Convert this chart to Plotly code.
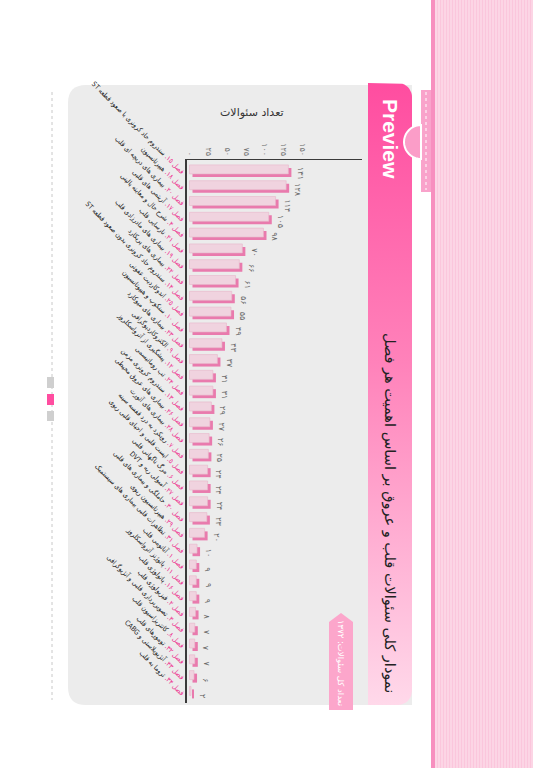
import plotly.graph_objects as go
import math

W, H = 533, 768

# ---------------- data ----------------
chapters = [15, 18, 20, 17, 4, 21, 19, 22, 14, 25, 10, 23, 9, 12, 24, 13, 26, 28,
            7, 5, 6, 27, 30, 29, 31, 1, 11, 16, 2, 3, 8, 32, 33, 34]
titles = [
    "سندروم حاد کرونری با صعود قطعه ST",
    "هیپرتانسیون",
    "بیماری های دریچه ای قلب",
    "آریتمی های قلبی",
    "شرح حال و معاینه بالینی",
    "نارسایی قلب",
    "بیماری های مادرزادی قلب",
    "بیماری های پریکارد",
    "سندروم حاد کرونری بدون صعود قطعه ST",
    "اندوکاردیت عفونی",
    "سنکوپ و هیپوتانسیون",
    "بیماری های میوکارد",
    "الکتروکاردیوگرافی",
    "پیشگیری از آترواسکلروز",
    "تب روماتیسمی",
    "سندروم کرونری مزمن",
    "بیماری های عروق محیطی",
    "بیماری های آئورت",
    "رویکرد به درد قفسه سینه",
    "ایست قلبی و احیای قلبی ریوی",
    "مرگ ناگهانی قلبی",
    "آمبولی ریه و DVT",
    "حاملگی و بیماری های قلبی",
    "هیپرتانسیون ریوی",
    "تظاهرات قلبی بیماری های سیستمیک",
    "آناتومی قلب",
    "پاتوژنز آترواسکلروز",
    "پاتولوژی قلب",
    "فیزیولوژی قلب",
    "تصویربرداری قلبی و آنژیوگرافی",
    "کاتتریزاسیون قلب",
    "تومورهای قلب",
    "آنژیوپلاستی و CABG",
    "تروما به قلب",
]
values = [131, 128, 114, 105, 98, 70, 66, 61, 56, 55, 49, 43, 37, 31, 31, 29, 27, 26,
          25, 24, 24, 24, 23, 20, 10, 9, 9, 9, 8, 7, 7, 7, 6, 2]
tick_values = [0, 25, 50, 75, 100, 125, 150]
total_text = "تعداد کل سئوالات: ۱۳۷۲"
chart_title = "نمودار کلی سئوالات قلب و عروق بر اساس اهمیت هر فصل"
axis_title = "تعداد سئوالات"

FA = str.maketrans("0123456789", "۰۱۲۳۴۵۶۷۸۹")
def fa(v):
    return str(v).translate(FA)

def px(x):
    return x / W
def py(y):
    return 1 - y / H

idx = list(range(len(values)))
ticktext_y = ["\u202b<span style='color:#ee2f8c'>فصل " + fa(c) + ".</span> " + t + "\u202c"
              for c, t in zip(chapters, titles)]

fig = go.Figure()

# 3D-looking bars: dark pink shadow behind light face
fig.add_trace(go.Bar(y=idx, x=values, base=4, orientation="h", width=0.57, offset=-0.32,
                     marker=dict(color="#e97aad", line=dict(width=0)), hoverinfo="skip",
                     xaxis="x", yaxis="y"))
fig.add_trace(go.Bar(y=idx, x=values, base=0, orientation="h", width=0.57, offset=-0.51,
                     marker=dict(color="#f0d3df", line=dict(color="#e7b6ca", width=0.6)),
                     hoverinfo="skip", xaxis="x", yaxis="y"))

# ---------------- decorative header strip (gradient) on a pixel overlay ----------------
def rounded_right(x0, y0, x1, y1, r, n=10):
    pts = [(x0, y0), (x1 - r, y0)]
    for k in range(n + 1):
        a = -math.pi / 2 + (math.pi / 2) * k / n
        pts.append((x1 - r + r * math.cos(a), y0 + r + r * math.sin(a)))
    for k in range(n + 1):
        a = 0 + (math.pi / 2) * k / n
        pts.append((x1 - r + r * math.cos(a), y1 - r + r * math.sin(a)))
    pts.append((x0, y1))
    pts.append((x0, y0))
    return pts

strip = rounded_right(368, 83, 412, 705, 14)
fig.add_trace(go.Scatter(x=[p[0] for p in strip], y=[p[1] for p in strip], mode="lines",
                         fill="toself", line=dict(width=0),
                         fillgradient=dict(type="vertical", start=83, stop=705,
                                           colorscale=[[0, "#ff4da0"], [0.45, "#ff82ba"], [1, "#ffd9ea"]]),
                         hoverinfo="skip", xaxis="x2", yaxis="y2", showlegend=False))

# ---------------- shapes ----------------
shapes = []
def rect(x0, y0, x1, y1, color, layer="below", line=None):
    shapes.append(dict(type="rect", xref="paper", yref="paper", x0=px(x0), x1=px(x1),
                       y0=py(y1), y1=py(y0), fillcolor=color, layer=layer,
                       line=line or dict(width=0)))

# gray panel with rounded left corners
r = 18
x0, y0, x1, y1 = 68, 85, 412, 705
path = (f"M {px(x0 + r)},{py(y0)} L {px(x1)},{py(y0)} L {px(x1)},{py(y1)} L {px(x0 + r)},{py(y1)} "
        f"Q {px(x0)},{py(y1)} {px(x0)},{py(y1 - r)} L {px(x0)},{py(y0 + r)} "
        f"Q {px(x0)},{py(y0)} {px(x0 + r)},{py(y0)} Z")
shapes.append(dict(type="path", xref="paper", yref="paper", path=path, fillcolor="#ececec",
                   line=dict(width=0), layer="below"))

# right striped band
rect(431, 0, 533, 768, "#fbc6dc")
for xs in range(436, 533, 3):
    shapes.append(dict(type="line", xref="paper", yref="paper", x0=px(xs), x1=px(xs),
                       y0=0, y1=1, line=dict(color="rgba(255,255,255,0.55)", width=1), layer="below"))
rect(431, 0, 435, 768, "#f78fbf")

# dotted guide line at left
shapes.append(dict(type="line", xref="paper", yref="paper", x0=px(52), x1=px(52), y0=py(92), y1=py(700),
                   line=dict(color="#c8c8c8", width=1, dash="dot"), layer="below"))
# small page markers
rect(47, 377, 54, 388, "#cfcfcf")
rect(47, 394, 54, 405, "#ff4da0")
rect(47, 411, 54, 421, "#cfcfcf")

# tab with semicircle
rect(421, 90, 431, 192, "#f9a3cb", layer="above")
shapes.append(dict(type="line", xref="paper", yref="paper", x0=px(426), x1=px(426), y0=py(92), y1=py(190),
                   line=dict(color="white", width=1, dash="dot"), layer="above"))
cx, cy, rr = 421, 142, 17
semi = f"M {px(cx)},{py(cy - rr)} "
for k in range(1, 21):
    a = math.pi / 2 + math.pi * k / 20
    semi += f"L {px(cx + rr * math.cos(a))},{py(cy - rr * math.sin(a))} "
semi += "Z"
shapes.append(dict(type="path", xref="paper", yref="paper", path=semi, fillcolor="#fb9dc8",
                   line=dict(color="white", width=2), layer="above"))

# badge with pointed top
bpath = (f"M {px(329)},{py(622)} L {px(341)},{py(613)} L {px(353)},{py(622)} "
         f"L {px(353)},{py(710)} L {px(329)},{py(710)} Z")
shapes.append(dict(type="path", xref="paper", yref="paper", path=bpath, fillcolor="#fca6cb",
                   line=dict(width=0), layer="above"))

# ---------------- annotations ----------------
ann = []
for i, v in enumerate(values):
    ann.append(dict(x=v, y=i, xref="x", yref="y", text=fa(v), textangle=90, showarrow=False,
                    xanchor="left", yanchor="middle", xshift=5, yshift=-1,
                    font=dict(size=8, color="#6a6a6a", family="DejaVu Sans")))
def center_ann(x, y, text, size, color, angle=0, family="DejaVu Sans"):
    ann.append(dict(x=px(x), y=py(y), xref="paper", yref="paper", text=text, textangle=angle,
                    showarrow=False, xanchor="center", yanchor="middle",
                    font=dict(size=size, color=color, family=family)))
center_ann(252, 113, axis_title, 11, "#333")
center_ann(390, 513, chart_title, 14.5, "#222", 90)
center_ann(391, 139, "<b>Preview</b>", 21, "white", 90, "Liberation Sans, Arial")
center_ann(341, 664, total_text, 8.5, "white", 90)

fig.update_layout(
    width=W, height=H, margin=dict(l=0, r=0, t=0, b=0, autoexpand=False),
    paper_bgcolor="white", plot_bgcolor="rgba(0,0,0,0)",
    showlegend=False, barmode="overlay",
    shapes=shapes, annotations=ann,
    font=dict(family="DejaVu Sans"),
    xaxis=dict(domain=[px(187), px(362)], range=[-3.3, 228.5], side="top", automargin=False,
               tickvals=tick_values, ticktext=[fa(t) for t in tick_values], tickangle=90,
               tickfont=dict(size=8, color="#777"), showgrid=False, zeroline=False,
               showline=True, linecolor="#3a3a3a", linewidth=1.2, ticks="", anchor="y"),
    yaxis=dict(domain=[py(703), py(160)], range=[33.54, -0.82], tickvals=idx, ticktext=ticktext_y,
               automargin=False,
               tickangle=45, tickfont=dict(size=7, color="#222", family="DejaVu Sans Condensed, DejaVu Sans"),
               showgrid=False, zeroline=False, showline=True, linecolor="#3a3a3a", linewidth=1.5,
               ticks="", anchor="x"),
    xaxis2=dict(domain=[0, 1], range=[0, W], visible=False, anchor="y2", fixedrange=True),
    yaxis2=dict(domain=[0, 1], range=[H, 0], visible=False, anchor="x2", fixedrange=True),
)

fig.write_html("out.html", config={"displayModeBar": False},
               post_script="document.body.style.margin='0';")
